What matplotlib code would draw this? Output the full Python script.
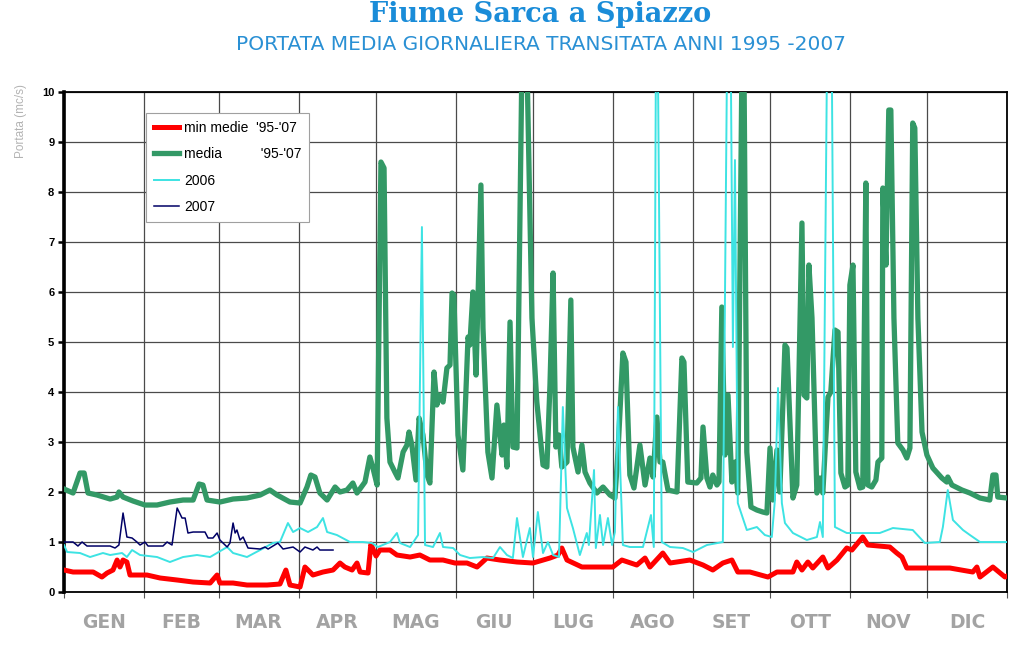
import numpy as np
import matplotlib
matplotlib.use('Agg')
import matplotlib.pyplot as plt

# giorno dell'anno (0-366) e portata (mc/s)
days_min = [0, 3.5, 11.3, 14.7, 16.7, 19.0, 20.6, 21.7, 22.9, 24.4, 25.6, 32.2, 37.3, 43.9, 50.1,
            56.7, 59.4, 60.5, 65.6, 71.0, 78.8, 83.8, 86.1, 87.7, 91.6, 93.5, 94.7, 96.6, 100.5,
            104.4, 107.1, 109.0, 111.8, 113.7, 114.9, 118.0, 119.1, 119.9, 121.1, 122.6, 126.5,
            129.2, 134.3, 138.1, 142.0, 147.1, 151.7, 156.4, 160.3, 164.1, 169.2, 175.8, 182.0,
            188.6, 191.7, 193.2, 195.2, 201.0, 208.0, 213.0, 216.5, 222.3, 225.5, 227.4, 232.4,
            235.2, 242.9, 248.0, 251.8, 255.7, 259.2, 261.5, 266.2, 273.2, 276.7, 282.9, 284.4,
            286.4, 288.7, 290.6, 294.5, 296.5, 300.0, 303.8, 305.8, 310.0, 312.0, 320.5, 323.2,
            325.2, 327.1, 334.9, 343.8, 352.7, 354.3, 355.5, 360.5, 365.2, 366]
q_min = [0.44, 0.4, 0.4, 0.3, 0.38, 0.44, 0.64, 0.5, 0.64, 0.6, 0.34, 0.34, 0.28, 0.24, 0.2,
         0.18, 0.34, 0.18, 0.18, 0.14, 0.14, 0.16, 0.44, 0.14, 0.1, 0.5, 0.44, 0.34, 0.4,
         0.44, 0.58, 0.5, 0.44, 0.58, 0.4, 0.38, 0.96, 0.86, 0.72, 0.84, 0.84,
         0.74, 0.7, 0.74, 0.64, 0.64, 0.58, 0.58, 0.5, 0.68, 0.64, 0.6, 0.58,
         0.68, 0.74, 0.88, 0.64, 0.5, 0.5, 0.5, 0.64, 0.54, 0.68, 0.5, 0.78,
         0.58, 0.64, 0.54, 0.44, 0.58, 0.64, 0.4, 0.4, 0.3, 0.4, 0.4, 0.6,
         0.44, 0.6, 0.48, 0.7, 0.48, 0.64, 0.88, 0.84, 1.1, 0.94, 0.9, 0.78,
         0.7, 0.48, 0.48, 0.48, 0.4, 0.5, 0.3, 0.5, 0.3, 0.32]

days_media = [0, 3.5, 6.2, 7.8, 9.3, 12.8, 17.9, 20.6, 21.3, 22.9, 26.8, 31.4, 36.1, 41.1, 46.2,
              50.1, 52.4, 53.9, 55.5, 60.5, 65.6, 71.0, 76.1, 79.9, 82.7, 87.7, 91.6, 94.3, 95.8,
              97.4, 99.3, 102.1, 105.2, 107.1, 109.8, 112.1, 113.7, 116.8, 118.7, 119.9, 121.5,
              123.0, 124.2, 125.3, 126.5, 128.4, 129.6, 131.6, 133.1, 133.9, 135.0, 136.6, 137.8,
              139.3, 140.9, 142.0, 143.6, 144.7, 145.5, 147.1, 148.6, 149.8, 150.6, 151.3, 152.9,
              154.8, 156.8, 157.5, 158.7, 159.9, 161.8, 162.6, 164.5, 166.1, 168.0, 170.0, 170.7,
              171.9, 173.1, 174.2, 175.8, 177.7, 179.7, 181.6, 183.5, 185.9, 187.4, 188.6, 189.8,
              190.9, 192.1, 193.2, 195.2, 196.7, 197.5, 199.5, 201.0, 202.2, 204.1, 206.8, 209.2,
              211.9, 213.8, 215.0, 216.9, 218.1, 219.6, 221.2, 223.5, 225.5, 227.4, 228.6, 230.1,
              231.3, 232.4, 234.4, 237.9, 239.8, 240.6, 242.1, 245.6, 247.2, 248.0, 249.5, 250.7,
              251.8, 253.4, 254.2, 255.3, 256.5, 257.7, 259.2, 260.4, 261.5, 263.1, 263.9, 265.0,
              266.6, 268.9, 271.2, 272.8, 274.0, 275.1, 276.7, 277.8, 279.8, 280.6, 282.9, 284.4,
              286.4, 287.2, 288.3, 289.1, 290.3, 292.2, 293.4, 294.5, 296.5, 297.6, 299.2, 300.4,
              301.5, 303.1, 304.2, 305.0, 306.2, 307.3, 308.9, 310.0, 311.2, 312.0, 313.5, 315.1,
              315.9, 317.4, 317.8, 319.0, 320.1, 320.9, 322.1, 323.6, 325.6, 327.1, 328.3, 329.4,
              330.2, 331.4, 333.0, 334.9, 337.2, 340.7, 342.6, 343.0, 344.6, 348.5, 351.6, 355.5,
              359.3, 360.5, 361.7, 362.4, 366]
q_media = [2.06, 1.98, 2.38, 2.38, 1.98, 1.94, 1.86, 1.9, 2.0, 1.9, 1.82, 1.74, 1.74, 1.8, 1.84,
           1.84, 2.16, 2.14, 1.84, 1.8, 1.86, 1.88, 1.94, 2.04, 1.94, 1.8, 1.78, 2.1, 2.34,
           2.3, 1.98, 1.84, 2.1, 2.0, 2.04, 2.18, 1.98, 2.2, 2.7, 2.48, 2.14,
           8.6, 8.48, 3.48, 2.6, 2.4, 2.28, 2.8, 2.94, 3.2, 2.94, 2.24, 3.48,
           3.14, 2.34, 2.18, 4.4, 3.74, 3.94, 3.8, 4.48, 4.54, 5.98, 5.94, 3.14,
           2.44, 5.1, 4.94, 6.0, 4.34, 8.14, 5.28, 2.8, 2.28, 3.74, 2.74, 3.34,
           2.5, 5.4, 2.9, 2.88, 10.5, 10.5, 5.48, 3.8, 2.54, 2.5, 4.14, 6.38,
           2.9, 3.14, 2.5, 2.6, 5.84, 2.9, 2.4, 2.94, 2.4, 2.18, 1.98, 2.1,
           1.94, 1.88, 2.8, 4.78, 4.6, 2.34, 2.08, 2.94, 2.14, 2.68, 2.3, 3.5,
           2.6, 2.6, 2.04, 2.0, 4.68, 4.6, 2.2, 2.18, 2.28, 3.3, 2.28, 2.1,
           2.34, 2.14, 2.2, 5.7, 2.74, 3.94, 2.2, 2.6, 1.98, 10.5, 10.5, 2.8,
           1.7, 1.64, 1.6, 1.58, 2.88, 1.84, 2.84, 2.0, 4.94, 4.88, 1.88, 2.14,
           7.38, 3.94, 3.88, 6.54, 5.48, 1.98, 2.28, 1.98, 3.9, 4.0, 5.24, 5.2,
           2.38, 2.1, 2.14, 6.14, 6.54, 2.4, 2.08, 2.1, 8.18, 2.14, 2.1, 2.24,
           2.6, 2.68, 8.08, 6.54, 9.64, 9.64, 5.48, 2.98, 2.84, 2.68, 2.88, 9.38,
           9.28, 5.48, 3.2, 2.74, 2.48, 2.28, 2.2, 2.3, 2.14, 2.04, 1.98, 1.88,
           1.84, 2.34, 2.34, 1.9, 1.88]

days_2006 = [0, 1.2, 6.2, 10.1, 15.1, 17.9, 22.5, 24.4, 26.4, 29.5, 36.1, 41.1, 46.2, 51.6, 56.7,
             63.3, 65.6, 71.0, 76.1, 81.1, 83.8, 86.9, 88.9, 91.6, 94.7, 98.2, 100.5, 102.1,
             105.9, 111.0, 116.0, 119.5, 121.8, 126.5, 129.2, 130.4, 134.3, 137.4, 138.9, 140.1,
             143.2, 145.9, 147.1, 151.0, 153.7, 157.5, 162.6, 166.5, 169.2, 171.9, 174.2, 175.8,
             178.1, 180.8, 182.0, 183.9, 185.9, 187.8, 189.8, 192.1, 193.6, 195.2, 197.5, 200.2,
             202.9, 203.7, 205.7, 206.4, 208.0, 209.2, 211.1, 212.7, 213.8, 215.0, 216.9, 219.6,
             224.7, 227.8, 228.9, 229.7, 230.5, 232.0, 235.2, 240.2, 244.1, 249.5, 255.7, 257.3,
             258.8, 259.6, 260.4, 261.5, 265.0, 268.9, 272.0, 274.7, 275.9, 277.1, 278.6, 279.8,
             282.9, 288.3, 292.2, 293.4, 294.5, 296.1, 298.0, 299.2, 303.8, 316.6, 321.7, 329.4,
             334.1, 339.9, 341.1, 343.0, 345.0, 348.9, 351.6, 355.5, 366]
q_2006 = [0.94, 0.8, 0.78, 0.7, 0.78, 0.74, 0.78, 0.7, 0.84, 0.74, 0.7, 0.6, 0.7, 0.74, 0.7,
          0.9, 0.78, 0.7, 0.84, 0.98, 1.0, 1.38, 1.2, 1.28, 1.2, 1.3, 1.48, 1.2,
          1.14, 1.0, 1.0, 0.98, 0.9, 1.0, 1.18, 0.98, 0.9, 1.14, 7.3, 0.94,
          0.9, 1.18, 0.9, 0.88, 0.74, 0.68, 0.7, 0.68, 0.9, 0.74, 0.68, 1.48,
          0.7, 1.28, 0.7, 1.6, 0.78, 1.0, 0.74, 0.7, 3.7, 1.68, 1.28, 0.74,
          1.18, 0.94, 2.44, 0.88, 1.54, 0.94, 1.48, 0.94, 1.2, 3.7, 0.94, 0.9,
          0.9, 1.54, 0.9, 10.5, 10.5, 1.0, 0.9, 0.88, 0.8, 0.94, 1.0, 10.5,
          10.5, 4.9, 8.64, 1.78, 1.24, 1.3, 1.14, 1.1, 1.84, 4.08, 1.78, 1.38,
          1.18, 1.04, 1.1, 1.4, 1.1, 10.5, 10.5, 1.3, 1.18, 1.18, 1.28, 1.24,
          0.98, 1.0, 1.3, 2.04, 1.44, 1.24, 1.14, 1.0, 1.0]

days_2007 = [0, 3.5, 5.4, 7.0, 8.9, 17.9, 19.8, 21.3, 22.9, 24.4, 26.4, 28.3, 29.5, 31.4, 32.6,
             38.4, 40.0, 41.9, 43.9, 45.8, 47.0, 48.1, 50.1, 54.7, 55.9, 57.8, 59.4, 60.5, 63.3,
             64.4, 65.6, 66.4, 67.1, 68.3, 69.5, 71.4, 76.1, 78.0, 79.2, 83.0, 85.0, 88.9, 91.6,
             93.5, 96.6, 98.2, 99.3, 104.4]
q_2007 = [1.0, 1.0, 0.92, 1.0, 0.92, 0.92, 0.88, 0.94, 1.58, 1.1, 1.08, 1.0, 0.94, 1.0, 0.92,
          0.92, 1.0, 0.94, 1.68, 1.48, 1.48, 1.18, 1.2, 1.2, 1.08, 1.08, 1.18, 1.04, 0.9,
          0.98, 1.38, 1.18, 1.24, 1.04, 1.1, 0.88, 0.86, 0.9, 0.86, 0.98, 0.86, 0.9, 0.8,
          0.9, 0.84, 0.9, 0.84, 0.84]

mesi = ['GEN', 'FEB', 'MAR', 'APR', 'MAG', 'GIU', 'LUG', 'AGO', 'SET', 'OTT', 'NOV', 'DIC']
giorni_mese = [31, 29, 31, 30, 31, 30, 31, 31, 30, 31, 30, 31]

bordi = np.concatenate([[0], np.cumsum(giorni_mese)])
centri = (bordi[:-1] + bordi[1:]) / 2

fig = plt.figure(figsize=(10.23, 6.49), dpi=100)
ax = fig.add_axes([0.0626, 0.0878, 0.9218, 0.7704])

ax.plot(days_min, q_min, color='#ff0000', lw=3.6, label="min medie  '95-'07", zorder=3)
ax.plot(days_media, q_media, color='#339966', lw=3.8, label="media          '95-'07", zorder=4)
ax.plot(days_2006, q_2006, color='#3de3e3', lw=1.4, label='2006', zorder=5)
ax.plot(days_2007, q_2007, color='#000066', lw=1.1, label='2007', zorder=6)

ax.set_xlim(0, 366)
ax.set_ylim(0, 10)

ax.set_yticks(range(0, 11))
ax.set_xticks(bordi)
ax.set_xticklabels([])
ax.set_xticks(centri, minor=True)
ax.set_xticklabels(mesi, minor=True)
ax.grid(True, which='major', color='#4a4a4a', lw=0.9)

ax.tick_params(axis='y', which='major', length=4, width=1.8, direction='out', pad=3,
               labelsize=8)
for t in ax.get_yticklabels():
    t.set_fontweight('bold')
    t.set_family('Liberation Sans')
ax.tick_params(axis='x', which='major', length=4, width=0.8, color='#555555')
ax.tick_params(axis='x', which='minor', length=0, pad=15, labelsize=13.5, labelcolor='#a3a3a3')
for t in ax.get_xticklabels(minor=True):
    t.set_fontweight('bold')

for s in ['top', 'right', 'bottom']:
    ax.spines[s].set_linewidth(1.3)
ax.spines['left'].set_linewidth(2.6)

fig.text(0.021, 1 - 121 / 649, 'Portata (mc/s)', rotation=90, va='center', ha='center',
         fontsize=8.5, color='#b3b3b3', family='Liberation Sans')

fig.text(0.528, 1 - 22 / 649, 'Fiume Sarca a Spiazzo', ha='center', va='baseline',
         fontsize=19.5, fontweight='bold', family='DejaVu Serif', color='#1a8cd8')
fig.text(0.529, 1 - 45 / 649, 'PORTATA MEDIA GIORNALIERA TRANSITATA ANNI 1995 -2007',
         ha='center', va='center', fontsize=14.5, color='#2a90d4')

leg = ax.legend(loc='upper left', bbox_to_anchor=(0.087, 0.958), borderaxespad=0,
                fancybox=False, edgecolor='#a0a0a0', framealpha=1, handlelength=1.8,
                labelspacing=0.9, borderpad=0.55, handletextpad=0.4,
                prop={'family': 'Liberation Sans', 'size': 10})
leg.get_frame().set_linewidth(0.8)
leg.set_zorder(10)

fig.savefig('out.png', dpi=100)
